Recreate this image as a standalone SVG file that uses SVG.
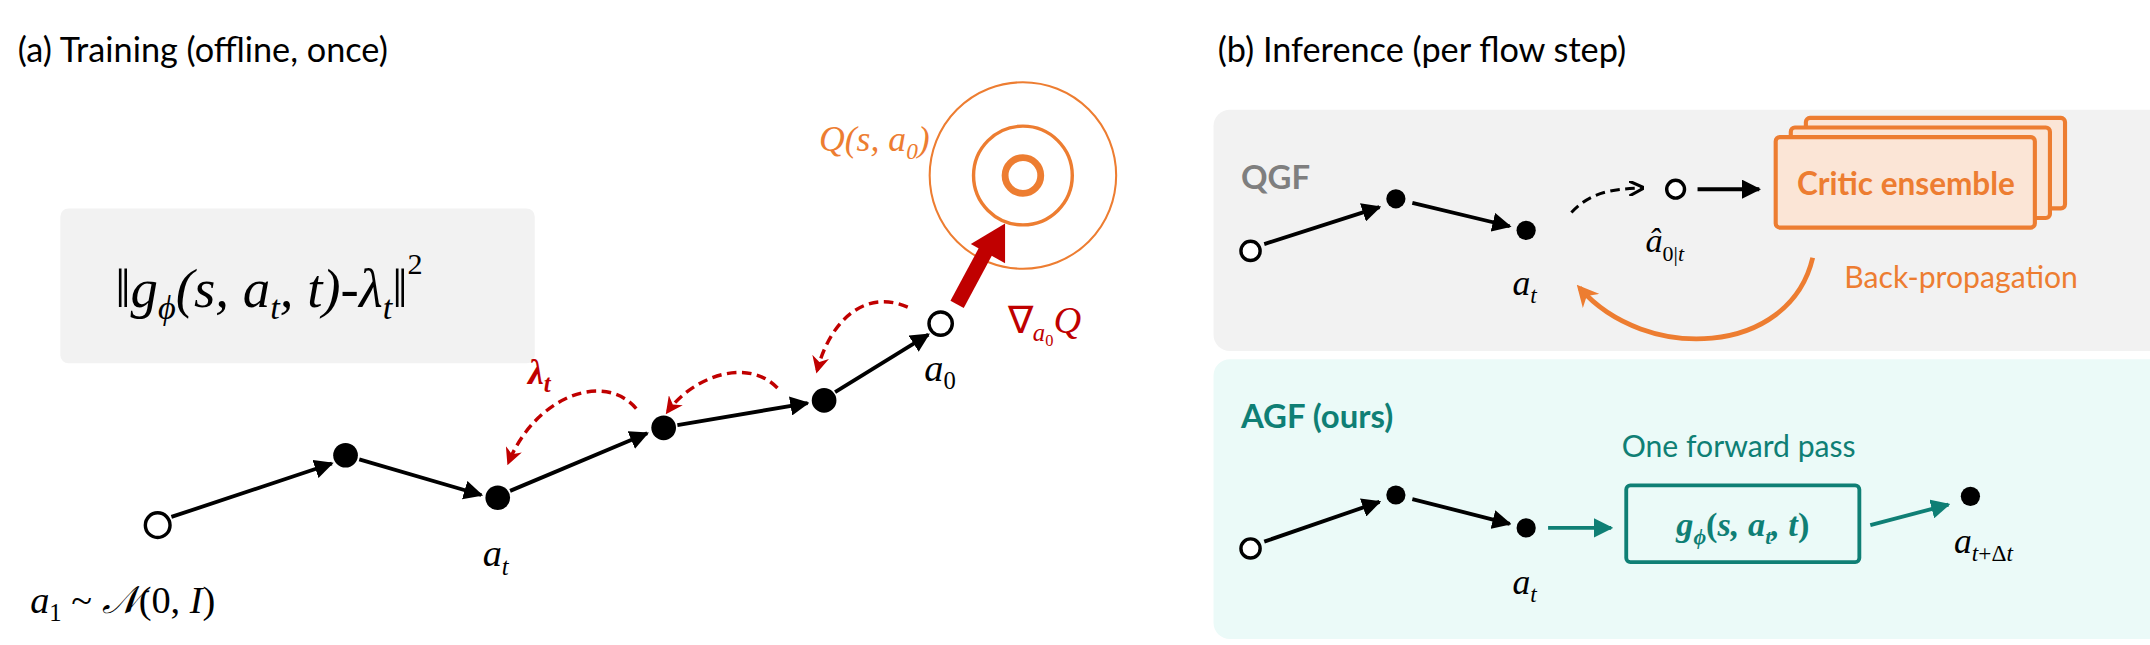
<svg xmlns="http://www.w3.org/2000/svg" width="2150" height="645" viewBox="0 0 2150 645">
<style>
.t{font-family:Lato,"Open Sans",sans-serif}
.m{font-family:"Liberation Serif",serif;font-style:italic}
.e{stroke:#000;stroke-width:2.8;fill:none}
.oc{fill:#fff;stroke:#000;stroke-width:2.5}
.fc{fill:#000}
.rd{stroke:#c00000;stroke-width:2.5;fill:none;stroke-dasharray:7 4}
</style>
<defs>
<marker id="ab" viewBox="0 0 10 10" refX="9" refY="5" markerWidth="5" markerHeight="5" orient="auto"><path d="M0,0L10,5L0,10z" fill="#000"/></marker>
<marker id="ar" viewBox="0 0 10 10" refX="8" refY="5" markerWidth="5" markerHeight="5" orient="auto"><path d="M0,0L10,5L0,10L3,5z" fill="#c00000"/></marker>
<marker id="ao" viewBox="0 0 10 10" refX="8" refY="5" markerWidth="4.5" markerHeight="4.5" orient="auto"><path d="M0,0L10,5L0,10L3,5z" fill="#ed7d31"/></marker>
<marker id="ad" viewBox="0 0 10 10" refX="9" refY="5" markerWidth="5" markerHeight="5" orient="auto"><path d="M0,0L10,5L0,10" fill="none" stroke="#000" stroke-width="2"/></marker>
<marker id="at" viewBox="0 0 10 10" refX="9" refY="5" markerWidth="5" markerHeight="5" orient="auto"><path d="M0,0L10,5L0,10z" fill="#0f7f75"/></marker>
</defs>
<g transform="scale(1.3712)">
<g id="panel-a">
<text class="t" x="13" y="45" font-size="25">(a) Training (offline, once)</text>
<rect x="44" y="152" width="346" height="113" rx="6" fill="#f2f2f2"/>
<text class="m" x="84" y="224" font-size="40">‖<tspan>g</tspan><tspan font-size="25" dy="9">ϕ</tspan><tspan dy="-9">(s, a</tspan><tspan font-size="25" dy="9">t</tspan><tspan dy="-9">, t)-λ</tspan><tspan font-size="25" dy="9">t</tspan><tspan dy="-9">‖</tspan><tspan font-style="normal" font-size="22" dy="-24">2</tspan></text>
</g>
<g id="panel-b">
<text class="t" x="888" y="45" font-size="25">(b) Inference (per flow step)</text>
<rect x="885" y="80" width="1255" height="176" rx="12" fill="#f2f2f2"/>
<rect x="885" y="262" width="1255" height="204" rx="12" fill="#ebfaf8"/>
<text class="t" x="905" y="138" font-size="24" font-weight="bold" fill="#7f7f7f">QGF</text>
<text class="t" x="905" y="312" font-size="24" font-weight="bold" fill="#0f7f75">AGF (ours)</text>
</g>
<g id="target">
<circle cx="746" cy="128" r="68" fill="none" stroke="#ed7d31" stroke-width="1.5"/>
<circle cx="746" cy="128" r="36" fill="none" stroke="#ed7d31" stroke-width="2.5"/>
<circle cx="746" cy="128" r="13" fill="none" stroke="#ed7d31" stroke-width="5"/>
<text class="m" x="678" y="110" font-size="26" fill="#ed7d31" text-anchor="end">Q(s, a<tspan font-size="17" dy="6">0</tspan><tspan dy="-6">)</tspan></text>
</g>
<g id="connectors">
<line class="e" x1="125" y1="377" x2="242" y2="338" marker-end="url(#ab)"/>
<line class="e" x1="262" y1="335" x2="351" y2="361" marker-end="url(#ab)"/>
<line class="e" x1="372" y1="358" x2="472" y2="316" marker-end="url(#ab)"/>
<line class="e" x1="494" y1="310" x2="589" y2="294" marker-end="url(#ab)"/>
<line class="e" x1="609" y1="286" x2="677" y2="244" marker-end="url(#ab)"/>
<path class="rd" d="M464,298 C440,270 390,290 371,337" marker-end="url(#ar)"/>
<path class="rd" d="M567,283 C545,260 505,275 487,300" marker-end="url(#ar)"/>
<path class="rd" d="M662,224 C630,210 605,235 596,270" marker-end="url(#ar)"/>
<path d="M698,222 L720,181" stroke="#c00000" stroke-width="11"/>
<path d="M708,178 L733,163 L733,192 z" fill="#c00000"/>
<line class="e" x1="922" y1="178" x2="1006" y2="151" marker-end="url(#ab)"/>
<line class="e" x1="1030" y1="148" x2="1101" y2="165" marker-end="url(#ab)"/>
<path d="M1146,155 C1160,140 1175,138 1198,137" stroke="#000" stroke-width="2.2" fill="none" stroke-dasharray="7 4" marker-end="url(#ad)"/>
<line class="e" x1="1238" y1="138" x2="1283" y2="138" marker-end="url(#ab)"/>
<path d="M1322,188 C1305,260 1200,265 1152,210" stroke="#ed7d31" stroke-width="3.5" fill="none" marker-end="url(#ao)"/>
<line class="e" x1="922" y1="395" x2="1006" y2="366" marker-end="url(#ab)"/>
<line class="e" x1="1030" y1="364" x2="1101" y2="382" marker-end="url(#ab)"/>
<line x1="1129" y1="385" x2="1175" y2="385" stroke="#0f7f75" stroke-width="2.8" marker-end="url(#at)"/>
<line x1="1364" y1="383" x2="1421" y2="368" stroke="#0f7f75" stroke-width="2.8" marker-end="url(#at)"/>
</g>
<g id="nodes-a">
<circle class="oc" cx="115" cy="383" r="9"/>
<circle class="fc" cx="252" cy="332" r="9"/>
<circle class="fc" cx="363" cy="363" r="9"/>
<circle class="fc" cx="484" cy="312" r="9"/>
<circle class="fc" cx="601" cy="292" r="9"/>
<circle class="oc" cx="686" cy="236" r="8.5"/>
<text class="m" x="22" y="447" font-size="28">a<tspan font-size="18" dy="6" font-style="normal">1</tspan><tspan dy="-6" font-style="normal"> ~ </tspan>𝒩<tspan font-style="normal">(0, </tspan>I<tspan font-style="normal">)</tspan></text>
<text class="m" x="352" y="413" font-size="28">a<tspan font-size="18" dy="6">t</tspan></text>
<text class="m" x="674" y="278" font-size="28">a<tspan font-size="18" dy="6" font-style="normal">0</tspan></text>
<text class="m" x="385" y="280" font-size="26" font-weight="bold" fill="#c00000">λ<tspan font-size="18" dy="6">t</tspan></text>
<text class="m" x="735" y="243" font-size="28" fill="#c00000"><tspan font-style="normal">∇</tspan><tspan font-size="18" dy="6">a</tspan><tspan font-size="12" dy="3" font-style="normal">0</tspan><tspan dy="-9">Q</tspan></text>
</g>
<g id="critic">
<rect x="1317" y="86" width="189" height="66" rx="3" fill="#fbe5d6" stroke="#ed7d31" stroke-width="3"/>
<rect x="1306" y="93" width="189" height="66" rx="3" fill="#fbe5d6" stroke="#ed7d31" stroke-width="3"/>
<rect x="1295" y="100" width="189" height="66" rx="3" fill="#fbe5d6" stroke="#ed7d31" stroke-width="3"/>
<text class="t" x="1390" y="142" font-size="23" font-weight="bold" fill="#ed7d31" text-anchor="middle">Critic ensemble</text>
<text class="t" x="1345" y="210" font-size="22" fill="#ed7d31">Back-propagation</text>
</g>
<g id="nodes-qgf">
<circle class="oc" cx="912" cy="183" r="7"/>
<circle class="fc" cx="1018" cy="145" r="7"/>
<circle class="fc" cx="1113" cy="168" r="7"/>
<circle class="oc" cx="1222" cy="138" r="6.5"/>
<text class="m" x="1103" y="215" font-size="26">a<tspan font-size="17" dy="6">t</tspan></text>
<text class="m" x="1200" y="184" font-size="25">â<tspan font-size="16" dy="6" font-style="normal">0|</tspan><tspan font-size="16">t</tspan></text>
</g>
<g id="nodes-agf">
<circle class="oc" cx="912" cy="400" r="7"/>
<circle class="fc" cx="1018" cy="361" r="7"/>
<circle class="fc" cx="1113" cy="385" r="7"/>
<circle class="fc" cx="1437" cy="362" r="7"/>
<text class="m" x="1103" y="433" font-size="26">a<tspan font-size="17" dy="6">t</tspan></text>
<text class="m" x="1425" y="403" font-size="26">a<tspan font-size="17" dy="6">t</tspan><tspan font-size="17" font-style="normal">+Δ</tspan><tspan font-size="17">t</tspan></text>
<text class="t" x="1268" y="333" font-size="22" fill="#0f7f75" text-anchor="middle">One forward pass</text>
<rect x="1186" y="354" width="170" height="56" rx="3" fill="none" stroke="#0f7f75" stroke-width="2.8"/>
<text class="m" x="1271" y="391" font-size="25" font-weight="bold" fill="#0f7f75" text-anchor="middle">g<tspan font-size="16" dy="6">ϕ</tspan><tspan dy="-6" font-style="normal">(</tspan>s, a<tspan font-size="16" dy="6">t</tspan><tspan dy="-6">, t</tspan><tspan font-style="normal">)</tspan></text>
</g>
</g>
</svg>
